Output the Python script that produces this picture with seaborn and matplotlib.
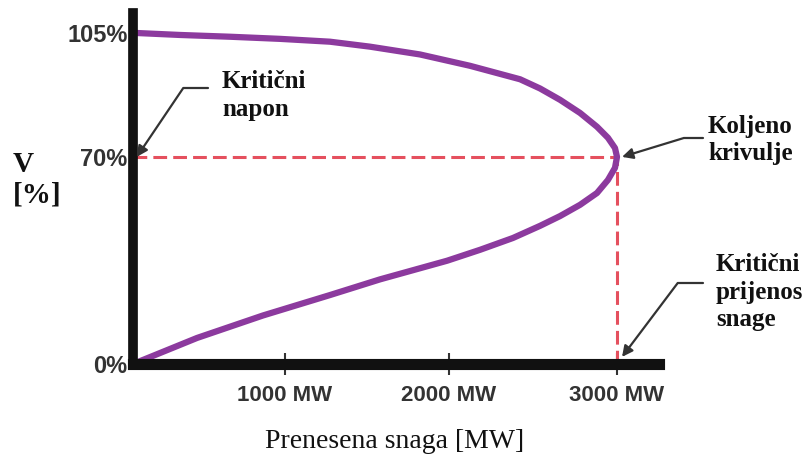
import numpy as np
import matplotlib
matplotlib.use('Agg')
import matplotlib.pyplot as plt
import seaborn as sns

# PV (nose) curve: lower branch up to the knee, then upper branch back
power_lower = [0, 421, 855, 1274, 1579, 1988, 2185, 2381, 2542, 2661, 2780, 2881, 2946, 2988, 3000]
volt_lower = [0, 8.8, 16.4, 23.3, 28.6, 34.9, 38.6, 42.6, 46.7, 50.0, 53.8, 57.8, 62.2, 66.3, 70]
power_upper = [2988, 2946, 2881, 2780, 2661, 2542, 2423, 2125, 1823, 1518, 1274, 967, 638, 309, 0]
volt_upper = [72.5, 75.4, 78.5, 82.4, 86.1, 89.3, 91.9, 95.7, 98.9, 101.1, 102.5, 103.3, 103.9, 104.4, 105]

knee_power = 3000
knee_volt = 70

x_ticks = [1000, 2000, 3000]
x_labels = ['1000 MW', '2000 MW', '3000 MW']
y_ticks = [0, 70, 105]
y_labels = ['0%', '70%', '105%']

# the drawing is not to scale, so the axes use piecewise-linear scales
x_anchor = [0, 1000, 2000, 3000, 4000]
x_anchor_t = [0, 152, 316, 484, 652]
y_anchor = [0, 70, 105, 130]
y_anchor_t = [0, 207, 331, 419.5]


def x_fwd(v):
    return np.interp(v, x_anchor, x_anchor_t)


def x_inv(v):
    return np.interp(v, x_anchor_t, x_anchor)


def y_fwd(v):
    return np.interp(v, y_anchor, y_anchor_t)


def y_inv(v):
    return np.interp(v, y_anchor_t, y_anchor)


sns.set_theme(style='white')
plt.rcParams['font.family'] = ['Liberation Serif', 'DejaVu Sans']

fig = plt.figure(figsize=(8.11, 4.59), dpi=100)
ax = fig.add_axes([133 / 811, 95 / 459, 526 / 811, 351 / 459])

curve_x = power_lower + power_upper
curve_y = volt_lower + volt_upper

# critical lines
ax.plot([0, knee_power], [knee_volt, knee_volt], color='#e5505e', lw=2.2,
        dashes=(4.5, 2), zorder=1)
ax.plot([knee_power, knee_power], [0, knee_volt], color='#e5505e', lw=2.2,
        dashes=(4.5, 2), zorder=1)

sns.lineplot(x=curve_x, y=curve_y, sort=False, estimator=None, color='#8c3a9e',
             lw=4.5, ax=ax, zorder=2)
for ln in ax.lines:
    ln.set_solid_capstyle('round')
    ln.set_solid_joinstyle('round')

ax.set_xscale('function', functions=(x_fwd, x_inv))
ax.set_yscale('function', functions=(y_fwd, y_inv))
ax.set_xlim(0, 3250)
ax.set_ylim(0, 110.6)

ax.set_xticks(x_ticks, labels=x_labels, fontfamily='Liberation Sans',
              fontweight='bold', fontsize=16, color='#333333')
ax.set_yticks(y_ticks, labels=y_labels, fontfamily='Liberation Sans',
              fontweight='bold', fontsize=17, color='#333333')
ax.tick_params(axis='x', direction='inout', length=16, width=1.5,
               color='#333333', pad=7, bottom=True)
ax.tick_params(axis='y', length=0, pad=4, left=True)
ax.minorticks_off()
ax.grid(False)

for side in ['top', 'right']:
    ax.spines[side].set_visible(False)
ax.spines['left'].set_linewidth(7)
ax.spines['bottom'].set_linewidth(8)
ax.spines['left'].set_color('#111111')
ax.spines['bottom'].set_color('#111111')
ax.set_xlabel('')
ax.set_ylabel('')

serif_bold = dict(fontfamily='Liberation Serif', fontweight='bold', color='#111111')
arrow = dict(arrowstyle='-|>', color='#333333', lw=1.6, shrinkA=0, shrinkB=0,
             mutation_scale=16)

# Kriticni napon
fig.text(222 / 811, 1 - 70 / 459, 'Kritični\nnapon', ha='left', va='top',
         fontsize=18, linespacing=1.3, **serif_bold)
ax.annotate('', xy=(25, knee_volt), xycoords='data', xytext=(208, 459 - 88),
            textcoords='figure pixels',
            arrowprops=dict(connectionstyle='angle,angleA=0,angleB=56,rad=0', **arrow))

# Koljeno krivulje
fig.text(708 / 811, 1 - 115 / 459, 'Koljeno\nkrivulje', ha='left', va='top',
         fontsize=18, linespacing=1.2, **serif_bold)
ax.annotate('', xy=(3030, knee_volt), xycoords='data', xytext=(703, 459 - 138),
            textcoords='figure pixels',
            arrowprops=dict(connectionstyle='angle,angleA=0,angleB=17,rad=0', **arrow))

# Kriticni prijenos snage
fig.text(716 / 811, 1 - 253 / 459, 'Kritični\nprijenos\nsnage', ha='left', va='top',
         fontsize=18, linespacing=1.25, **serif_bold)
ax.annotate('', xy=(3030, 2.4), xycoords='data', xytext=(703, 459 - 283),
            textcoords='figure pixels',
            arrowprops=dict(connectionstyle='angle,angleA=0,angleB=53,rad=0', **arrow))

# axis titles
fig.text(13 / 811, 1 - 151 / 459, 'V\n[%]', ha='left', va='top', fontsize=21,
         linespacing=1.15, **serif_bold)
fig.text(395 / 811, 1 - 441 / 459, 'Prenesena snaga [MW]', ha='center', va='center',
         fontfamily='Liberation Serif', fontsize=20, color='#111111')

fig.savefig('out.png', dpi=100)
